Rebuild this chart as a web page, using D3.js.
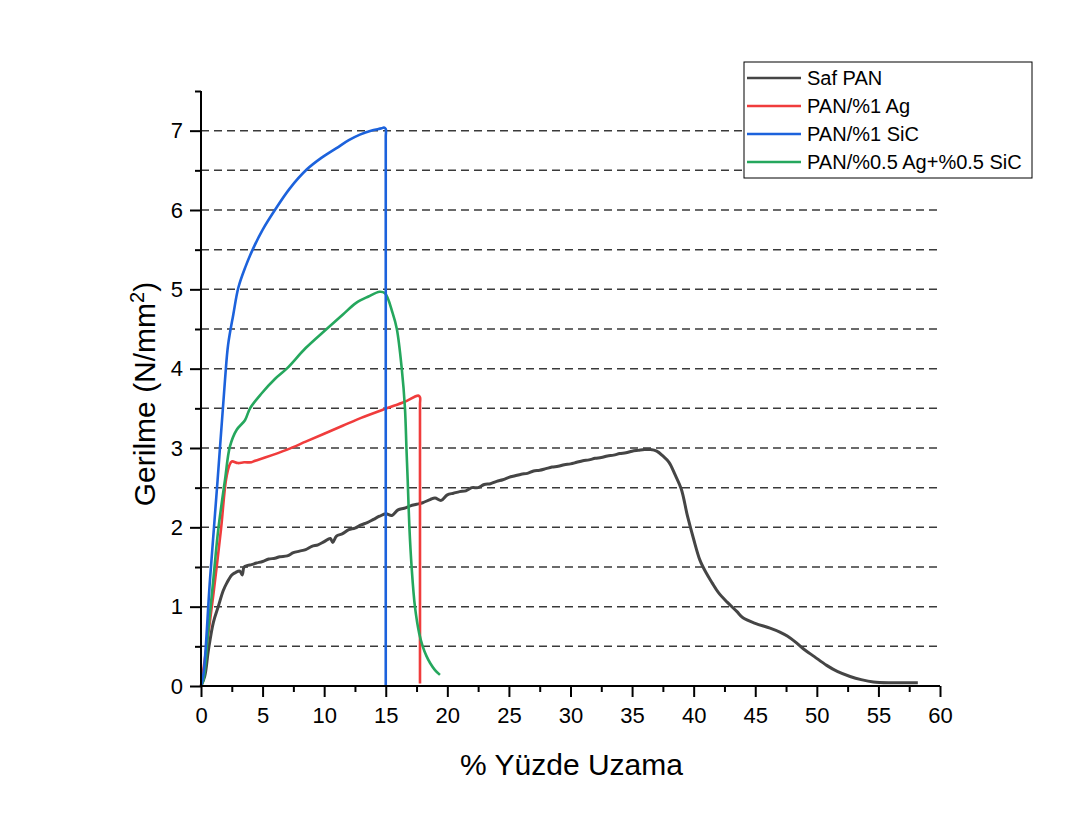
<!DOCTYPE html>
<html>
<head>
<meta charset="utf-8">
<script src="https://cdn.jsdelivr.net/npm/d3@7"></script>
<style>
  body { margin: 0; background: #fff; }
  text { font-family: "Liberation Sans", Arial, sans-serif; fill: #000; }
</style>
</head>
<body>
<div id="chart"></div>
<script>
// series (x = % elongation, y = stress N/mm2)
var safX = [0,0.3,0.6,1.0,1.4,1.8,2.1,2.5,2.8,3.1,3.2,3.35,3.5,3.8,4.1,4.5,5.0,5.5,6.0,6.4,7.0,7.5,8.0,8.5,9.0,9.5,10.0,10.5,10.7,11.0,11.5,12.0,12.5,13.0,13.5,14.0,14.5,15.0,15.5,16.0,16.5,17.0,17.5,18.0,18.6,19.0,19.5,20.0,20.5,21.0,21.5,22.0,22.5,23.0,23.5,24.0,24.5,25.0,25.5,26,26.5,27,27.5,28,28.5,29,29.5,30,30.5,31,31.5,32,32.5,33,33.5,34,34.5,35,35.5,36,36.5,37,37.5,38,38.5,39,39.5,40,40.5,41,41.5,42,42.7,43.5,44,45,46.2,47,47.6,48.3,48.9,49.8,50.8,51.7,52.7,53.6,54.6,56,57,58.2];
var safY = [0,0.12,0.45,0.8,1.0,1.2,1.3,1.4,1.43,1.45,1.44,1.4,1.5,1.52,1.53,1.55,1.57,1.6,1.61,1.63,1.64,1.68,1.7,1.72,1.76,1.78,1.82,1.86,1.81,1.89,1.92,1.97,1.99,2.03,2.06,2.1,2.14,2.17,2.15,2.22,2.24,2.27,2.29,2.31,2.35,2.37,2.34,2.41,2.43,2.45,2.46,2.5,2.5,2.54,2.55,2.58,2.6,2.63,2.65,2.67,2.68,2.71,2.72,2.74,2.76,2.77,2.79,2.8,2.82,2.84,2.85,2.87,2.88,2.9,2.91,2.93,2.94,2.96,2.97,2.98,2.98,2.96,2.9,2.82,2.66,2.48,2.14,1.85,1.59,1.43,1.3,1.18,1.06,0.94,0.86,0.79,0.73,0.68,0.63,0.55,0.47,0.37,0.26,0.18,0.12,0.08,0.05,0.04,0.04,0.04];

var agX = [0,0.5,1.0,1.62,2.03,2.3,2.5,3.0,3.5,4.1,4.4,5.2,7.0,8.5,10.0,11.5,13.0,15.07,16.5,17.64,17.78,17.78,17.78];
var agY = [0,0.55,1.15,1.97,2.6,2.78,2.83,2.81,2.82,2.82,2.84,2.88,2.98,3.08,3.18,3.28,3.38,3.5,3.58,3.66,3.64,3.55,0.03];

var sicX = [0,0.2,0.73,1.35,1.95,2.2,2.62,3.03,3.6,4.25,5.0,6.0,7.2,8.58,9.8,11.0,12.0,12.9,13.8,14.67,14.85,15.0,15.0,15.0];
var sicY = [0,0.15,1.34,2.6,3.86,4.3,4.68,5.02,5.28,5.52,5.75,6.0,6.27,6.51,6.66,6.78,6.88,6.95,7.0,7.03,7.04,7.02,6.92,0];

var mixX = [0,0.2,0.6,1.0,1.4,1.95,2.35,2.9,3.57,3.98,4.93,6.0,6.96,8.5,10.2,11.5,12.6,13.6,14.5,14.94,15.56,15.9,16.3,16.56,16.68,16.78,16.92,17.1,17.37,17.72,18.0,18.3,18.6,19.0,19.4];
var mixY = [0,0.08,0.72,1.34,1.97,2.6,3.02,3.23,3.35,3.5,3.69,3.87,4.0,4.26,4.5,4.68,4.83,4.91,4.97,4.95,4.7,4.5,4.0,3.5,3.0,2.6,2.0,1.5,1.0,0.66,0.5,0.38,0.29,0.2,0.14];

var seriesNames = ["Saf PAN", "PAN/%1 Ag", "PAN/%1 SiC", "PAN/%0.5 Ag+%0.5 SiC"];
var seriesColors = ["#454545", "#f03c3c", "#1c62dc", "#25a75d"];
var xTicks = [0,5,10,15,20,25,30,35,40,45,50,55,60];
var yTicks = [0,1,2,3,4,5,6,7];

var width = 1081, height = 821;
var margin = {left: 201, right: 141, top: 91, bottom: 135};

var svg = d3.select("#chart")
    .append("svg")
    .attr("width", width)
    .attr("height", height);

svg.append("rect")
    .attr("width", width)
    .attr("height", height)
    .attr("fill", "#fff");

var x = d3.scaleLinear().domain([0, 60]).range([margin.left, width - margin.right]);
var y = d3.scaleLinear().domain([0, 7.5]).range([height - margin.bottom, margin.top]);

// dashed grid every 0.5
var gridVals = d3.range(1, 15).map(function(i) { return i * 0.5; });
svg.append("g")
    .selectAll("line")
    .data(gridVals)
    .enter()
    .append("line")
    .attr("x1", x(0))
    .attr("x2", x(60))
    .attr("y1", function(d) { return y(d); })
    .attr("y2", function(d) { return y(d); })
    .attr("stroke", "#3a3a3a")
    .attr("stroke-width", 1.5)
    .attr("stroke-dasharray", "8,5");

// curves
var line = d3.line()
    .curve(d3.curveCatmullRom.alpha(0.5))
    .x(function(d) { return x(d[0]); })
    .y(function(d) { return y(d[1]); });

var allSeries = [
    d3.zip(safX, safY),
    d3.zip(agX, agY),
    d3.zip(mixX, mixY),
    d3.zip(sicX, sicY)
];
var order = [0, 1, 3, 2];

svg.append("g")
    .selectAll("path")
    .data(allSeries)
    .enter()
    .append("path")
    .attr("d", line)
    .attr("fill", "none")
    .attr("stroke", function(d, i) { return seriesColors[order[i]]; })
    .attr("stroke-width", function(d, i) { return i == 0 ? 3 : 2.6; })
    .attr("stroke-linejoin", "round");

// axes
var xAxis = d3.axisBottom(x)
    .tickValues(xTicks)
    .tickSize(11)
    .tickPadding(10);
var gx = svg.append("g")
    .attr("transform", "translate(0," + y(0) + ")")
    .call(xAxis);
gx.selectAll("text").attr("font-size", "22px").attr("font-family", "Liberation Sans, Arial, sans-serif").attr("fill", "#000");

var xMinor = d3.axisBottom(x)
    .tickValues(d3.range(0, 12).map(function(i) { return 2.5 + i * 5; }))
    .tickSize(6)
    .tickFormat("");
svg.append("g")
    .attr("transform", "translate(0," + y(0) + ")")
    .call(xMinor);

var yAxis = d3.axisLeft(y)
    .tickValues(yTicks)
    .tickSize(11)
    .tickPadding(7);
var gy = svg.append("g")
    .attr("transform", "translate(" + x(0) + ",0)")
    .call(yAxis);
gy.selectAll("text").attr("font-size", "22px").attr("font-family", "Liberation Sans, Arial, sans-serif").attr("fill", "#000");

var yMinor = d3.axisLeft(y)
    .tickValues(d3.range(0, 8).map(function(i) { return 0.5 + i; }))
    .tickSize(6)
    .tickFormat("");
svg.append("g")
    .attr("transform", "translate(" + x(0) + ",0)")
    .call(yMinor);

svg.selectAll(".domain").attr("stroke", "#000").attr("stroke-width", 2);
svg.selectAll(".tick line").attr("stroke", "#000").attr("stroke-width", 2);
svg.selectAll("path.domain").attr("d", function() {
    return d3.select(this.parentNode).attr("transform").indexOf("translate(0") == 0
        ? "M" + x(0) + ",0H" + x(60)
        : "M0," + y(7.5) + "V" + y(0);
});

// axis titles
svg.append("text")
    .attr("x", x(30) + 1)
    .attr("y", 775)
    .attr("text-anchor", "middle")
    .attr("font-size", "30px")
    .text("% Yüzde Uzama");

var yt = svg.append("text")
    .attr("transform", "translate(155," + 394 + ") rotate(-90)")
    .attr("text-anchor", "middle")
    .attr("font-size", "30px");
yt.append("tspan").text("Gerilme (N/mm");
yt.append("tspan").attr("baseline-shift", "super").attr("font-size", "20px").text("2");
yt.append("tspan").text(")");

// legend
var lg = svg.append("g").attr("transform", "translate(744,62)");
lg.append("rect")
    .attr("width", 288)
    .attr("height", 116)
    .attr("fill", "#fff")
    .attr("stroke", "#000")
    .attr("stroke-width", 1);

var item = lg.selectAll(".item")
    .data(seriesNames)
    .enter()
    .append("g")
    .attr("class", "item")
    .attr("transform", function(d, i) { return "translate(0," + (16 + i * 28) + ")"; });

item.append("line")
    .attr("x1", 3)
    .attr("x2", 57)
    .attr("stroke", function(d, i) { return seriesColors[i]; })
    .attr("stroke-width", 2.6);

item.append("text")
    .attr("x", 63)
    .attr("y", 7)
    .attr("font-size", "20px")
    .text(function(d) { return d; });
</script>
</body>
</html>
